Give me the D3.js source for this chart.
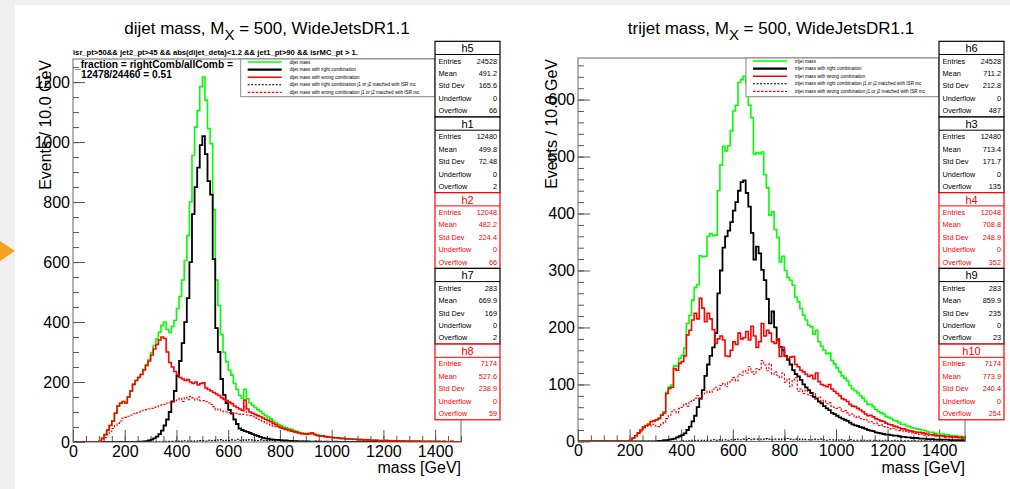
<!DOCTYPE html>
<html><head><meta charset="utf-8">
<script src="https://cdn.jsdelivr.net/npm/d3@7"></script>
<style>
html,body{margin:0;padding:0;background:#f0f0f0;overflow:hidden;}
svg{display:block;}
text{font-family:"Liberation Sans",Arial,Helvetica,sans-serif;}
</style></head><body>
<svg id="c" width="1010" height="489"></svg>
<script>
// ---------- data: 150 bins of 10 GeV, 0..1500 ----------
const binWidth = 10;
const massTicks = [0,200,400,600,800,1000,1200,1400];

const dijetAll = [
0,0,0,0,0,0,0,0,0,0,
2,12,25,40,55,70,96,120,129,135,
130,150,170,192,205,216,226,242,258,275,
298,322,343,366,388,400,375,365,385,405,
445,485,540,605,688,800,955,1050,1105,1185,
1217,1140,1045,995,775,540,455,358,299,268,
240,223,195,175,155,146,176,144,130,122,
115,108,102,94,88,83,77,70,65,59,
54,50,47,44,42,38,36,32,30,29,
28,29,31,26,23,21,21,19,17,16,
15,15,14,12,12,11,10,10,9,9,
8,9,7,8,7,6,7,6,5,5,
6,5,4,5,4,4,3,4,3,3,
3,3,3,3,2,2,2,2,2,2,
2,2,1,2,1,1,2,1,1,1];
const dijetRight = [
0,0,0,0,0,0,0,0,0,0,
0,0,0,0,0,0,0,0,0,0,
0,0,0,0,0,1,1,2,3,5,
8,12,18,26,38,55,75,100,135,170,
220,270,330,400,480,600,760,850,915,990,
1020,960,870,825,610,380,300,210,157,130,
107,95,75,60,45,40,36,34,30,26,
23,20,17,14,12,11,9,8,7,7,
6,5,5,4,4,3,3,2,2,2,
2,1,1,1,1,1,0,1,0,0,
0,1,0,0,0,0,0,0,0,0,
0,0,0,0,0,0,0,0,0,0,
0,0,0,0,0,0,0,0,0,0,
0,0,0,0,0,0,0,0,0,0,
0,0,0,0,0,0,0,0,0,0];
const dijetWrong = [
0,0,0,0,0,0,0,0,0,0,
2,12,25,40,55,70,96,120,129,135,
130,150,170,192,205,215,225,240,255,270,
290,310,325,340,350,345,300,265,250,235,
225,215,210,205,208,200,195,200,190,195,
197,180,175,170,165,160,155,148,142,138,
133,128,120,115,110,106,140,110,100,96,
92,88,85,80,76,72,68,62,58,52,
48,45,42,40,38,35,33,30,28,27,
26,28,30,25,22,20,21,18,17,16,
15,14,14,12,12,11,10,10,9,9,
8,8,7,7,7,6,6,6,5,5,
5,5,4,4,4,4,3,3,3,3,
3,3,2,3,2,2,2,2,2,2,
2,2,1,2,1,1,2,1,1,1];
const dijetRightISR = [
0,0,0,0,0,0,0,0,0,0,
0,0,0,0,0,0,0,0,0,0,
0,0,0,0,0,0,1,0,1,1,
1,0,2,1,1,2,1,2,2,3,
2,3,2,4,3,3,2,4,3,5,
4,3,6,4,5,7,6,8,4,6,
5,7,6,9,6,7,5,8,6,7,
6,5,7,4,6,5,4,6,3,5,
4,3,4,3,2,4,3,2,3,2,
2,2,1,3,1,2,1,1,2,1,
1,1,0,1,1,0,1,0,1,0,
0,1,0,0,1,0,0,0,1,0,
0,0,0,0,0,0,0,0,0,0,
0,0,0,0,0,0,0,0,0,0,
0,0,0,0,0,0,0,0,0,0];
const dijetWrongISR = [
0,0,0,0,0,0,0,0,0,0,
0,5,15,25,34,45,55,62,70,80,
82,86,90,94,97,100,104,106,108,110,
112,115,118,121,124,126,130,132,136,138,
140,146,135,148,141,152,147,140,150,138,
138,134,130,125,118,107,110,104,101,100,
98,96,97,95,93,92,118,90,88,86,
80,76,72,68,64,60,57,53,51,49,
46,42,40,37,35,33,31,29,28,27,
25,27,28,24,21,19,20,17,16,15,
14,13,13,11,11,10,9,9,8,8,
7,7,6,6,6,5,5,5,4,4,
4,4,4,3,3,3,3,3,2,2,
2,2,2,2,2,2,1,2,1,1,
1,1,1,1,1,1,1,1,1,1];

const trijetAll = [
0,0,0,0,0,0,0,0,0,0,
0,0,0,0,0,0,0,0,0,0,
2,6,10,15,20,25,28,30,35,36,
38,41,47,52,86,96,99,133,132,146,
151,164,207,221,248,270,275,326,324,325,
360,365,361,362,440,485,518,510,519,545,
580,590,630,635,641,629,590,568,504,507,
505,508,468,445,397,403,372,358,315,325,
300,288,283,274,253,245,233,222,213,204,
201,188,195,175,167,160,154,155,142,136,
129,122,115,111,106,98,92,89,85,80,
76,70,65,65,61,56,53,50,48,44,
42,40,37,36,33,30,30,27,26,24,
23,22,21,20,19,17,16,16,14,13,
13,13,12,12,10,10,10,9,9,8];
const trijetRight = [
0,0,0,0,0,0,0,0,0,0,
0,0,0,0,0,0,0,0,0,0,
0,0,0,0,0,0,0,0,0,0,
0,1,1,2,2,3,4,5,7,9,
11,14,20,26,35,45,60,75,90,115,
135,150,165,190,260,300,340,360,370,385,
405,420,440,455,458,436,412,366,319,342,
330,301,283,250,207,228,200,178,166,160,
150,143,135,125,118,114,108,100,95,90,
85,78,75,70,67,62,58,55,50,48,
45,42,40,38,36,33,30,28,27,25,
24,22,20,19,18,16,15,14,13,12,
12,11,10,10,9,8,8,7,7,6,
6,6,5,5,5,4,4,4,3,3,
3,3,3,3,2,2,2,2,2,2];
const trijetWrong = [
0,0,0,0,0,0,0,0,0,0,
0,0,0,0,0,0,0,0,0,0,
2,6,10,15,20,25,28,30,35,36,
38,40,46,50,84,93,95,128,125,137,
140,150,187,195,213,225,215,251,234,210,
225,215,196,172,180,185,178,150,149,160,
175,170,190,180,182,193,178,202,185,165,
175,207,185,195,190,175,172,180,149,165,
150,145,148,149,135,131,125,122,118,114,
116,110,120,105,100,98,96,100,92,88,
84,80,75,73,70,65,62,61,58,55,
52,48,45,46,43,40,38,36,35,32,
30,29,27,26,24,22,22,20,19,18,
17,16,16,15,14,13,12,12,11,10,
10,10,9,9,8,8,8,7,7,6];
const trijetRightISR = [
0,0,0,0,0,0,0,0,0,0,
0,0,0,0,0,0,0,0,0,0,
0,0,0,0,0,0,0,0,0,0,
0,0,0,0,0,0,0,0,0,0,
1,0,1,1,2,1,2,2,1,2,
2,2,3,2,3,2,3,3,2,3,
3,4,3,3,4,3,5,3,4,4,
4,3,4,5,4,3,4,4,3,4,
4,5,4,3,4,4,3,4,3,3,
3,4,3,3,4,3,2,3,3,2,
3,2,3,2,2,3,2,2,2,2,
2,2,1,2,2,1,2,1,1,2,
1,1,2,1,1,1,1,1,1,1,
1,1,0,1,1,0,1,1,0,1,
0,1,0,1,0,0,1,0,0,1];
const trijetWrongISR = [
0,0,0,0,0,0,0,0,0,0,
0,0,0,0,0,0,0,0,0,0,
1,5,9,14,17,22,26,28,27,30,
27,26,30,33,40,46,52,55,50,58,
60,66,62,70,72,76,80,74,82,85,
88,86,92,95,90,98,102,96,104,108,
112,106,118,116,124,120,131,122,118,128,
126,142,134,124,136,118,122,116,112,120,
104,110,96,108,112,88,92,84,90,82,
80,84,74,78,70,72,66,68,62,60,
58,60,52,54,50,46,48,42,44,40,
38,39,34,35,31,32,28,29,26,25,
24,22,23,20,19,19,17,18,16,15,
14,14,12,13,11,11,10,10,9,9,
8,9,7,8,7,6,7,6,5,5];

const statLabels = ["Entries","Mean","Std Dev","Underflow","Overflow"];
const dijetStatNames = ["h5","h1","h2","h7","h8"];
const dijetStatValues = [
  ["24528","491.2","165.6","0","66"],
  ["12480","499.8","72.48","0","2"],
  ["12048","482.2","224.4","0","66"],
  ["283","669.9","169","0","2"],
  ["7174","527.6","238.9","0","59"]];
const trijetStatNames = ["h6","h3","h4","h9","h10"];
const trijetStatValues = [
  ["24528","711.2","212.8","0","487"],
  ["12480","713.4","171.7","0","135"],
  ["12048","708.8","248.9","0","352"],
  ["283","859.9","235","0","23"],
  ["7174","773.9","240.4","0","254"]];
const statColors = ["#000","#000","#f00","#000","#f00"];

const dijetLegend = ["dijet mass","dijet mass with right combination","dijet mass with wrong combination",
  "dijet mass with right combination j1 or j2 matched with ISR mc","dijet mass with wrong combination j1 or j2 matched with ISR mc"];
const trijetLegend = ["trijet mass","trijet mass with right combination","trijet mass with wrong combination",
  "trijet mass with right combination j1 or j2 matched with ISR mc","trijet mass with wrong combination j1 or j2 matched with ISR mc"];

// ---------- drawing ----------
const svg = d3.select("#c");
svg.append("rect").attr("x",15).attr("y",5).attr("width",995).attr("height",484).attr("fill","#fff");
svg.append("path").attr("d","M0,241L15,251L0,261Z").attr("fill","#f5a31f");

const styles = [
  {color:"#00ff00", w:1.6, dash:null},
  {color:"#000", w:1.8, dash:null},
  {color:"#ff0000", w:1.6, dash:null},
  {color:"#000", w:1.1, dash:"2,1.5"},
  {color:"#ff0000", w:1.1, dash:"2.5,1.5"}
];

function stepPath(vals, x, y){
  const p = d3.path();
  p.moveTo(x(0), y(0));
  vals.forEach((v,i)=>{ p.lineTo(x(i*binWidth), y(v)); p.lineTo(x((i+1)*binWidth), y(v)); });
  return p.toString();
}

function panel(cfg){
  const g = svg.append("g");
  const x = d3.scaleLinear().domain([0,1500]).range([cfg.x0, cfg.x1]);
  const y = d3.scaleLinear().domain([0,cfg.ymax]).range([cfg.yb, cfg.yt]);
  const id = "clip"+cfg.key;
  svg.append("clipPath").attr("id",id).append("rect")
    .attr("x",cfg.x0).attr("y",cfg.yt).attr("width",cfg.x1-cfg.x0).attr("height",cfg.yb-cfg.yt);

  // title
  const t = g.append("text").attr("x",cfg.titleX).attr("y",34).attr("text-anchor","middle")
    .attr("font-size",17).attr("fill","#000");
  t.append("tspan").text(cfg.title1+" M");
  t.append("tspan").attr("dy",6).attr("font-size",15).text("X");
  t.append("tspan").attr("dy",-6).text(" = 500, WideJetsDR1.1");

  const fmt = d3.format("d");
  // axes
  const yMinor = d3.range(0, cfg.ymax, cfg.yMinorStep);
  const xMinor = d3.range(0, 1501, 50);
  g.append("g").attr("transform",`translate(${cfg.x0},0)`)
    .call(d3.axisLeft(y).tickValues(yMinor).tickSize(-6).tickFormat(""))
    .call(a=>a.select(".domain").remove()).selectAll("line").attr("stroke","#555");
  g.append("g").attr("transform",`translate(${cfg.x0},0)`)
    .call(d3.axisLeft(y).tickValues(cfg.yTicks).tickSize(-12).tickPadding(3).tickFormat(fmt))
    .call(a=>a.select(".domain").remove())
    .call(a=>a.selectAll("line").attr("stroke","#555"))
    .call(a=>a.selectAll("text").attr("font-size",16).attr("fill","#000").attr("font-family","Liberation Sans, Arial, sans-serif"));
  g.append("g").attr("transform",`translate(0,${cfg.yb})`)
    .call(d3.axisBottom(x).tickValues(xMinor).tickSize(-6).tickFormat(""))
    .call(a=>a.select(".domain").remove()).selectAll("line").attr("stroke","#555");
  g.append("g").attr("transform",`translate(0,${cfg.yb})`)
    .call(d3.axisBottom(x).tickValues(massTicks).tickSize(-12).tickPadding(3).tickFormat(fmt))
    .call(a=>a.select(".domain").remove())
    .call(a=>a.selectAll("line").attr("stroke","#555"))
    .call(a=>a.selectAll("text").attr("font-size",16).attr("fill","#000").attr("dy","0.75em").attr("font-family","Liberation Sans, Arial, sans-serif"));

  // histograms
  const hg = g.append("g").attr("clip-path",`url(#${id})`);
  cfg.series.forEach((s,i)=>{
    hg.append("path").attr("d",stepPath(s,x,y)).attr("fill","none")
      .attr("stroke",styles[i].color).attr("stroke-width",styles[i].w)
      .attr("stroke-dasharray",styles[i].dash).attr("stroke-linejoin","miter");
  });

  // frame
  g.append("rect").attr("x",cfg.x0).attr("y",cfg.yt).attr("width",cfg.x1-cfg.x0).attr("height",cfg.yb-cfg.yt)
    .attr("fill","none").attr("stroke","#666").attr("stroke-width",1);

  // axis titles
  g.append("text").attr("x",cfg.x1).attr("y",473).attr("text-anchor","end").attr("font-size",16).text("mass [GeV]");
  g.append("text").attr("transform",`translate(${cfg.yTitleX},${cfg.yt+1}) rotate(-90)`)
    .attr("text-anchor","end").attr("font-size",16).text("Events / 10.0 GeV");

  // legend
  const L = cfg.legend;
  g.append("rect").attr("x",L.x).attr("y",L.y).attr("width",L.w).attr("height",L.h)
    .attr("fill","#fff").attr("stroke","#888").attr("stroke-width",1);
  cfg.legendLabels.forEach((lab,i)=>{
    const yy = L.y + 3 + i*7.6;
    g.append("line").attr("x1",L.x+7).attr("x2",L.x+41).attr("y1",yy).attr("y2",yy)
      .attr("stroke",styles[i].color).attr("stroke-width",i===1?2.4:styles[i].w)
      .attr("stroke-dasharray",styles[i].dash);
    g.append("text").attr("x",L.x+49).attr("y",yy).attr("dy","0.35em").attr("font-size",4.6).text(lab);
  });

  // stat boxes
  cfg.statNames.forEach((nm,i)=>{
    const top = 41.3 + i*75.7, col = statColors[i];
    const sx = cfg.statX, sw = 65;
    g.append("rect").attr("x",sx).attr("y",top).attr("width",sw).attr("height",75.7)
      .attr("fill","#fff").attr("stroke",col).attr("stroke-width",1.2);
    g.append("line").attr("x1",sx).attr("x2",sx+sw).attr("y1",top+13.2).attr("y2",top+13.2)
      .attr("stroke",col).attr("stroke-width",1);
    g.append("text").attr("x",sx+sw/2).attr("y",top+7).attr("dy","0.36em").attr("text-anchor","middle")
      .attr("font-size",11).attr("fill",col).text(nm);
    statLabels.forEach((lab,j)=>{
      const yy = top + 19.7 + j*12.45;
      g.append("text").attr("x",sx+3.5).attr("y",yy).attr("dy","0.35em").attr("font-size",7.3).attr("fill",col).text(lab);
      g.append("text").attr("x",sx+sw-3).attr("y",yy).attr("dy","0.35em").attr("text-anchor","end")
        .attr("font-size",7.3).attr("fill",col).text(cfg.statValues[i][j]);
    });
  });
  return g;
}

const gl = panel({key:"L", x0:73, x1:461, yt:59, yb:442, ymax:1277, yTicks:[0,200,400,600,800,1000,1200], yMinorStep:50,
  title1:"dijet mass,", titleX:267, yTitleX:51,
  series:[dijetAll, dijetRight, dijetWrong, dijetRightISR, dijetWrongISR],
  legend:{x:240.7, y:59, w:194.3, h:37.7}, legendLabels:dijetLegend,
  statX:435, statNames:dijetStatNames, statValues:dijetStatValues});

gl.append("text").attr("x",73).attr("y",55).attr("font-size",7.2).attr("font-weight","bold")
  .attr("textLength",285).attr("lengthAdjust","spacingAndGlyphs")
  .text("isr_pt>50&& jet2_pt>45  && abs(dijet_deta)<1.2 && jet1_pt>90 && isrMC_pt > 1.");
gl.append("text").attr("x",75).attr("y",67.5).attr("font-size",10.2).attr("font-weight","bold")
  .text("_fraction = rightComb/allComb =");
gl.append("text").attr("x",81).attr("y",78).attr("font-size",10.2).attr("font-weight","bold")
  .text("12478/24460 = 0.51");

panel({key:"R", x0:578, x1:965, yt:58, yb:441.4, ymax:673, yTicks:[0,100,200,300,400,500,600], yMinorStep:20,
  title1:"trijet mass,", titleX:771, yTitleX:557,
  series:[trijetAll, trijetRight, trijetWrong, trijetRightISR, trijetWrongISR],
  legend:{x:746, y:58, w:193, h:38.7}, legendLabels:trijetLegend,
  statX:939, statNames:trijetStatNames, statValues:trijetStatValues});
</script>
</body></html>
